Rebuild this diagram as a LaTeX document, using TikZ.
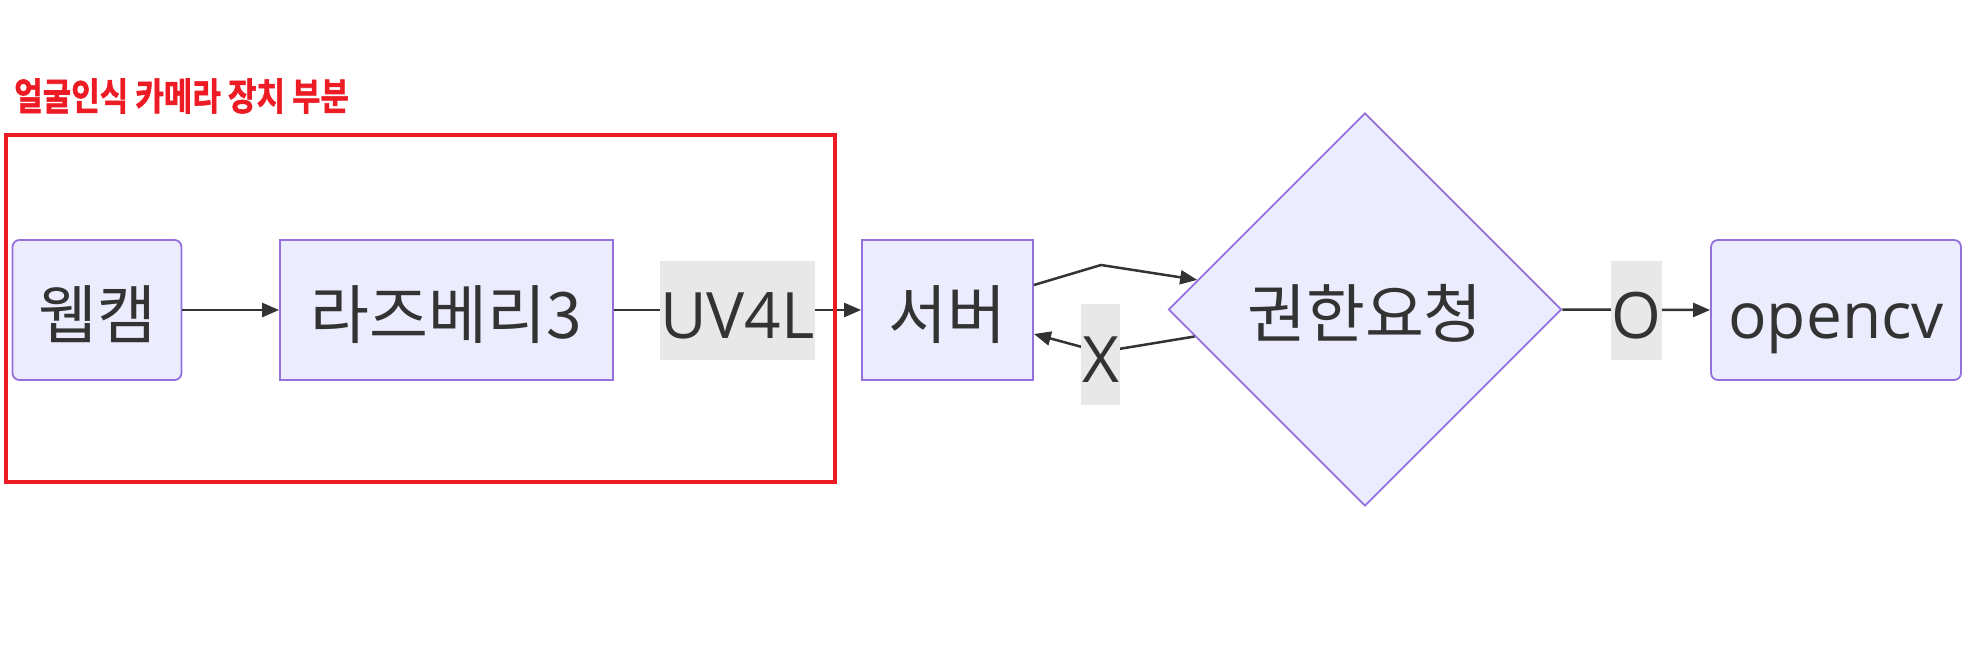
\documentclass[tikz,border=0pt]{standalone}
\usepackage{fontspec}
\setmainfont{Open Sans}
\newfontfamily\kofont{Noto Sans CJK KR}
\newfontfamily\kobold{Noto Sans CJK KR}[BoldFont={* Bold},BoldFeatures={FakeBold=1.5}]
\usetikzlibrary{shapes.geometric,arrows.meta}
\definecolor{nodefill}{HTML}{ECECFF}
\definecolor{nodeline}{HTML}{9370DB}
\definecolor{edgecol}{HTML}{333333}
\definecolor{lblfill}{HTML}{E8E8E8}
\definecolor{redcol}{HTML}{ED1C24}
\begin{document}
\begin{tikzpicture}[x=1pt,y=-1pt,
  txt/.style={text=edgecol, font=\fontsize{64}{70}\selectfont, text height=56pt, text depth=0pt},
  box/.style={txt, draw=nodeline, fill=nodefill, line width=1.8pt, inner sep=0pt,
    minimum height=140pt},
  rbox/.style={box, rounded corners=7pt},
  dia/.style={txt, draw=nodeline, fill=nodefill, line width=1.8pt, diamond, aspect=1,
    minimum size=393pt, inner sep=0pt},
  lbl/.style={txt, fill=lblfill, inner sep=0pt, minimum height=99pt},
  edge/.style={draw=edgecol, line width=2.5pt},
  arr/.style={edge, -{Triangle[length=17pt,width=14pt]}}
]
\useasboundingbox (0,0) rectangle (1977,661);

\node[rbox, minimum width=169pt] (cam) at (97,310) {\kofont 웹캠};
\node[box, minimum width=333pt] (rpi) at (446.5,310) {\kofont 라즈베리3};
\node[box, minimum width=171pt] (srv) at (947.5,310) {\kofont 서버};
\node[dia] (auth) at (1365,309.5) {\kofont 권한요청};
\node[rbox, minimum width=250pt] (cv) at (1836,310) {opencv};

% edges
\draw[arr] (cam.east) -- (rpi.west);
\coordinate (uvc) at (737.5,310);
\draw[arr] (rpi.east) -- (srv.west);
\node[lbl, minimum width=151pt] (uv) at (uvc) {UV4L};

\coordinate (bend) at (1101,265);
\draw[arr] ([yshift=25pt]srv.east) -- (bend) -- (auth.170.6);

\coordinate (xc) at (1100.5,352);
\draw[arr] (auth.189.7) -- (xc) -- ([yshift=-24pt]srv.east);
\node[lbl, minimum width=39pt, minimum height=101pt] (xl) at (1100.5,354.5) {X};

\draw[arr] (auth.east) -- (cv.west);
\node[lbl, minimum width=51pt] (ol) at (1636.5,310) {O};

% group
\draw[draw=redcol, line width=4.5pt] (6,135) rectangle (835,482);
\node[anchor=west, text=redcol, inner sep=0pt, font=\kobold\bfseries\fontsize{31}{34}\selectfont] (title) at (14,96) {\scalebox{1}[1.22]{얼굴인식 카메라 장치 부분}};
\end{tikzpicture}
\end{document}
